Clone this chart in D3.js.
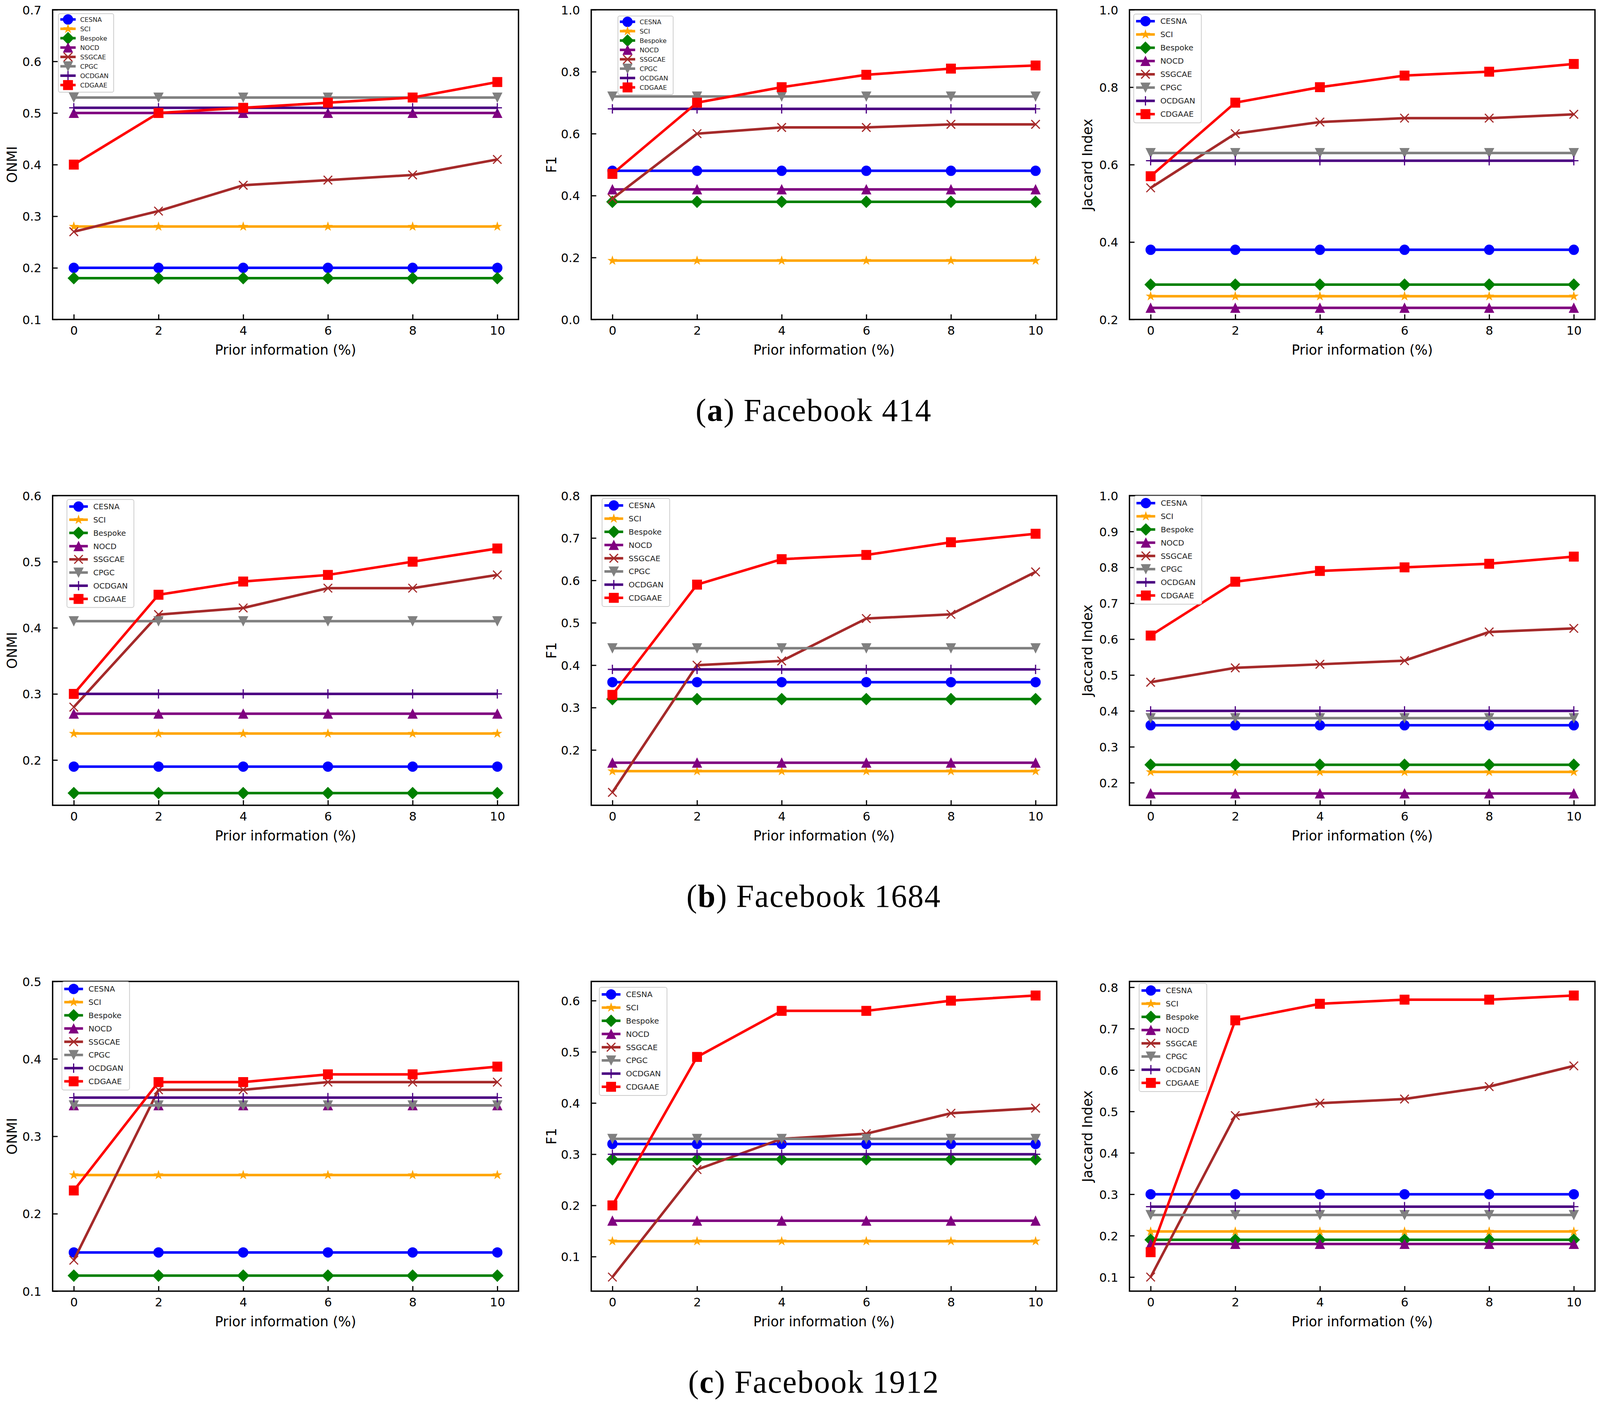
<!DOCTYPE html>
<html>
<head>
<meta charset="utf-8">
<script src="https://cdn.jsdelivr.net/npm/d3@7"></script>
<style>
  html, body { margin: 0; padding: 0; background: #ffffff; overflow: hidden; width: 100%; height: 100%; }
  #chart { width: 100vw; height: 100vh; }
  svg { display: block; width: 100vw; height: 100vh; }
</style>
</head>
<body>
<div id="chart"></div>
<script>
// ---------------- DATA ----------------
const xValues = [0, 2, 4, 6, 8, 10];
const xTickLabels = [0, 2, 4, 6, 8, 10];
const methods = ["CESNA", "SCI", "Bespoke", "NOCD", "SSGCAE", "CPGC", "OCDGAN", "CDGAAE"];
const methodColors = ["#0000ff", "#ffa500", "#008000", "#800080", "#a52a2a", "#808080", "#4b0082", "#ff0000"];
const methodMarkers = ["o", "*", "D", "^", "x", "v", "+", "s"];

// (a) Facebook 414
const fb414_onmi = [
  [0.20, 0.20, 0.20, 0.20, 0.20, 0.20],
  [0.28, 0.28, 0.28, 0.28, 0.28, 0.28],
  [0.18, 0.18, 0.18, 0.18, 0.18, 0.18],
  [0.50, 0.50, 0.50, 0.50, 0.50, 0.50],
  [0.27, 0.31, 0.36, 0.37, 0.38, 0.41],
  [0.53, 0.53, 0.53, 0.53, 0.53, 0.53],
  [0.51, 0.51, 0.51, 0.51, 0.51, 0.51],
  [0.40, 0.50, 0.51, 0.52, 0.53, 0.56]
];
const fb414_f1 = [
  [0.48, 0.48, 0.48, 0.48, 0.48, 0.48],
  [0.19, 0.19, 0.19, 0.19, 0.19, 0.19],
  [0.38, 0.38, 0.38, 0.38, 0.38, 0.38],
  [0.42, 0.42, 0.42, 0.42, 0.42, 0.42],
  [0.39, 0.60, 0.62, 0.62, 0.63, 0.63],
  [0.72, 0.72, 0.72, 0.72, 0.72, 0.72],
  [0.68, 0.68, 0.68, 0.68, 0.68, 0.68],
  [0.47, 0.70, 0.75, 0.79, 0.81, 0.82]
];
const fb414_jaccard = [
  [0.38, 0.38, 0.38, 0.38, 0.38, 0.38],
  [0.26, 0.26, 0.26, 0.26, 0.26, 0.26],
  [0.29, 0.29, 0.29, 0.29, 0.29, 0.29],
  [0.23, 0.23, 0.23, 0.23, 0.23, 0.23],
  [0.54, 0.68, 0.71, 0.72, 0.72, 0.73],
  [0.63, 0.63, 0.63, 0.63, 0.63, 0.63],
  [0.61, 0.61, 0.61, 0.61, 0.61, 0.61],
  [0.57, 0.76, 0.80, 0.83, 0.84, 0.86]
];
// (b) Facebook 1684
const fb1684_onmi = [
  [0.19, 0.19, 0.19, 0.19, 0.19, 0.19],
  [0.24, 0.24, 0.24, 0.24, 0.24, 0.24],
  [0.15, 0.15, 0.15, 0.15, 0.15, 0.15],
  [0.27, 0.27, 0.27, 0.27, 0.27, 0.27],
  [0.28, 0.42, 0.43, 0.46, 0.46, 0.48],
  [0.41, 0.41, 0.41, 0.41, 0.41, 0.41],
  [0.30, 0.30, 0.30, 0.30, 0.30, 0.30],
  [0.30, 0.45, 0.47, 0.48, 0.50, 0.52]
];
const fb1684_f1 = [
  [0.36, 0.36, 0.36, 0.36, 0.36, 0.36],
  [0.15, 0.15, 0.15, 0.15, 0.15, 0.15],
  [0.32, 0.32, 0.32, 0.32, 0.32, 0.32],
  [0.17, 0.17, 0.17, 0.17, 0.17, 0.17],
  [0.10, 0.40, 0.41, 0.51, 0.52, 0.62],
  [0.44, 0.44, 0.44, 0.44, 0.44, 0.44],
  [0.39, 0.39, 0.39, 0.39, 0.39, 0.39],
  [0.33, 0.59, 0.65, 0.66, 0.69, 0.71]
];
const fb1684_jaccard = [
  [0.36, 0.36, 0.36, 0.36, 0.36, 0.36],
  [0.23, 0.23, 0.23, 0.23, 0.23, 0.23],
  [0.25, 0.25, 0.25, 0.25, 0.25, 0.25],
  [0.17, 0.17, 0.17, 0.17, 0.17, 0.17],
  [0.48, 0.52, 0.53, 0.54, 0.62, 0.63],
  [0.38, 0.38, 0.38, 0.38, 0.38, 0.38],
  [0.40, 0.40, 0.40, 0.40, 0.40, 0.40],
  [0.61, 0.76, 0.79, 0.80, 0.81, 0.83]
];
// (c) Facebook 1912
const fb1912_onmi = [
  [0.15, 0.15, 0.15, 0.15, 0.15, 0.15],
  [0.25, 0.25, 0.25, 0.25, 0.25, 0.25],
  [0.12, 0.12, 0.12, 0.12, 0.12, 0.12],
  [0.34, 0.34, 0.34, 0.34, 0.34, 0.34],
  [0.14, 0.36, 0.36, 0.37, 0.37, 0.37],
  [0.34, 0.34, 0.34, 0.34, 0.34, 0.34],
  [0.35, 0.35, 0.35, 0.35, 0.35, 0.35],
  [0.23, 0.37, 0.37, 0.38, 0.38, 0.39]
];
const fb1912_f1 = [
  [0.32, 0.32, 0.32, 0.32, 0.32, 0.32],
  [0.13, 0.13, 0.13, 0.13, 0.13, 0.13],
  [0.29, 0.29, 0.29, 0.29, 0.29, 0.29],
  [0.17, 0.17, 0.17, 0.17, 0.17, 0.17],
  [0.06, 0.27, 0.33, 0.34, 0.38, 0.39],
  [0.33, 0.33, 0.33, 0.33, 0.33, 0.33],
  [0.30, 0.30, 0.30, 0.30, 0.30, 0.30],
  [0.20, 0.49, 0.58, 0.58, 0.60, 0.61]
];
const fb1912_jaccard = [
  [0.30, 0.30, 0.30, 0.30, 0.30, 0.30],
  [0.21, 0.21, 0.21, 0.21, 0.21, 0.21],
  [0.19, 0.19, 0.19, 0.19, 0.19, 0.19],
  [0.18, 0.18, 0.18, 0.18, 0.18, 0.18],
  [0.10, 0.49, 0.52, 0.53, 0.56, 0.61],
  [0.25, 0.25, 0.25, 0.25, 0.25, 0.25],
  [0.27, 0.27, 0.27, 0.27, 0.27, 0.27],
  [0.16, 0.72, 0.76, 0.77, 0.77, 0.78]
];

// y-axis limits and tick labels per panel
const yLimits = [
  [0.1, 0.7], [0.0, 1.0], [0.2, 1.0],
  [0.1315, 0.6], [0.0695, 0.8], [0.137, 1.0],
  [0.1, 0.5], [0.0325, 0.6375], [0.066, 0.814]
];
const yTickLabels = [
  [0.1, 0.2, 0.3, 0.4, 0.5, 0.6, 0.7],
  [0.0, 0.2, 0.4, 0.6, 0.8, 1.0],
  [0.2, 0.4, 0.6, 0.8, 1.0],
  [0.2, 0.3, 0.4, 0.5, 0.6],
  [0.2, 0.3, 0.4, 0.5, 0.6, 0.7, 0.8],
  [0.2, 0.3, 0.4, 0.5, 0.6, 0.7, 0.8, 0.9, 1.0],
  [0.1, 0.2, 0.3, 0.4, 0.5],
  [0.1, 0.2, 0.3, 0.4, 0.5, 0.6],
  [0.1, 0.2, 0.3, 0.4, 0.5, 0.6, 0.7, 0.8]
];
const metricLabels = ["ONMI", "F1", "Jaccard Index"];
const xAxisLabel = "Prior information (%)";
const captionLetters = ["a", "b", "c"];
const captionTexts = ["Facebook 414", "Facebook 1684", "Facebook 1912"];
const panelData = [fb414_onmi, fb414_f1, fb414_jaccard, fb1684_onmi, fb1684_f1, fb1684_jaccard, fb1912_onmi, fb1912_f1, fb1912_jaccard];

// ---------------- LAYOUT ----------------
const W = 4135, H = 3595;
const colX = [[136, 1340], [1528, 2731], [2919, 4122]];
const rowY = [[25, 818], [1269, 2062], [2513, 3306]];
const yLabelX = [31, 1425, 2810];
// legend: absolute x, y (top-left), font size, row height
const legendLayout = [
  {x: 151, y: 35, f: 16.5, row: 24},
  {x: 1597, y: 41, f: 16.5, row: 24},
  {x: 2930, y: 36, f: 20.2, row: 34},
  {x: 173, y: 1279, f: 20, row: 33.8},
  {x: 1556, y: 1276, f: 20.2, row: 33.8},
  {x: 2931, y: 1270, f: 20.2, row: 33.8},
  {x: 160, y: 2514, f: 20.2, row: 33.8},
  {x: 1549, y: 2528, f: 20.2, row: 33.8},
  {x: 2944, y: 2518, f: 20.2, row: 33.8}
];
const captionCenterX = 2103;
const captionOffset = 260;

const FONT = "'DejaVu Sans', sans-serif";
const LINE_W = 6.5;

const svg = d3.select("#chart").append("svg")
  .attr("viewBox", `0 0 ${W} ${H}`)
  .attr("preserveAspectRatio", "none");
svg.append("rect").attr("width", W).attr("height", H).attr("fill", "#ffffff");

// marker drawing
function drawMarker(g, type, color, cx, cy) {
  const s = g.append("g").attr("transform", `translate(${cx},${cy})`);
  if (type === "o") {
    s.append("circle").attr("r", 12.5).attr("fill", color).attr("stroke", color).attr("stroke-width", 1.5);
  } else if (type === "s") {
    s.append("rect").attr("x", -12).attr("y", -12).attr("width", 24).attr("height", 24)
      .attr("fill", color).attr("stroke", color).attr("stroke-width", 1.5);
  } else if (type === "D") {
    const r = 15;
    s.append("path").attr("d", `M0,${-r}L${r},0L0,${r}L${-r},0Z`).attr("fill", color).attr("stroke", color).attr("stroke-width", 1.5);
  } else if (type === "^" || type === "v") {
    const r = 12;
    const d = type === "^" ? `M0,${-r}L${r},${r}L${-r},${r}Z` : `M0,${r}L${r},${-r}L${-r},${-r}Z`;
    s.append("path").attr("d", d).attr("fill", color).attr("stroke", color).attr("stroke-width", 1.5);
  } else if (type === "*") {
    const R = 11, r = R * 0.381966;
    let d = "";
    for (let i = 0; i < 10; i++) {
      const rad = i % 2 === 0 ? R : r;
      const a = -Math.PI / 2 + i * Math.PI / 5;
      d += (i === 0 ? "M" : "L") + (rad * Math.cos(a)).toFixed(2) + "," + (rad * Math.sin(a)).toFixed(2);
    }
    s.append("path").attr("d", d + "Z").attr("fill", color).attr("stroke", color).attr("stroke-width", 1.5);
  } else if (type === "x") {
    const r = 11;
    s.append("path").attr("d", `M${-r},${-r}L${r},${r}M${-r},${r}L${r},${-r}`)
      .attr("stroke", color).attr("stroke-width", 3).attr("fill", "none");
  } else if (type === "+") {
    const r = 12;
    s.append("path").attr("d", `M${-r},0L${r},0M0,${-r}L0,${r}`)
      .attr("stroke", color).attr("stroke-width", 3).attr("fill", "none");
  }
}

const fmt = d3.format(".1f");

panelData.forEach((series, p) => {
  const row = Math.floor(p / 3), col = p % 3;
  const [x0, x1] = colX[col];
  const [y0, y1] = rowY[row];
  const x = d3.scaleLinear().domain([-0.5, 10.5]).range([x0, x1]);
  const y = d3.scaleLinear().domain(yLimits[p]).range([y1, y0]);
  const g = svg.append("g");

  // series
  const line = d3.line().x((d, i) => x(xValues[i])).y(d => y(d));
  series.forEach((vals, si) => {
    const sg = g.append("g");
    sg.append("path").datum(vals).attr("d", line)
      .attr("fill", "none").attr("stroke", methodColors[si])
      .attr("stroke-width", LINE_W).attr("stroke-linejoin", "round").attr("stroke-linecap", "butt");
    vals.forEach((v, i) => drawMarker(sg, methodMarkers[si], methodColors[si], x(xValues[i]), y(v)));
  });

  // axes (ticks pointing inward)
  const xAxis = d3.axisBottom(x).tickValues(xTickLabels).tickSizeInner(-13).tickSizeOuter(0).tickPadding(24);
  const xg = g.append("g").attr("transform", `translate(0,${y1})`).call(xAxis);
  const yAxis = d3.axisLeft(y).tickValues(yTickLabels[p]).tickFormat(fmt).tickSizeInner(-13).tickSizeOuter(0).tickPadding(29);
  const yg = g.append("g").attr("transform", `translate(${x0},0)`).call(yAxis);
  [xg, yg].forEach(a => {
    a.select(".domain").remove();
    a.selectAll(".tick line").attr("stroke", "#000").attr("stroke-width", 3);
    a.selectAll(".tick text").attr("font-family", FONT).attr("font-size", 31).attr("fill", "#000");
  });
  xg.selectAll(".tick text").attr("dy", null).attr("y", 39).attr("dominant-baseline", "auto");
  yg.selectAll(".tick text").attr("dy", "0.36em");

  // frame
  g.append("rect").attr("x", x0).attr("y", y0).attr("width", x1 - x0).attr("height", y1 - y0)
    .attr("fill", "none").attr("stroke", "#000").attr("stroke-width", 3.5);

  // axis labels
  g.append("text").attr("x", (x0 + x1) / 2).attr("y", y1 + 90)
    .attr("text-anchor", "middle").attr("font-family", FONT).attr("font-size", 35).attr("fill", "#000")
    .text(xAxisLabel);
  const ly = (y0 + y1) / 2;
  g.append("text").attr("transform", `translate(${yLabelX[col]},${ly}) rotate(-90)`)
    .attr("text-anchor", "middle").attr("dy", "0.36em").attr("font-family", FONT).attr("font-size", 35).attr("fill", "#000")
    .text(metricLabels[col]);

  // legend
  const L = legendLayout[p];
  const f = L.f;
  const lw = 8.65 * f;
  const lh = 0.9 * f + (methods.length - 1) * L.row + 1.1 * f;
  const lg = g.append("g");
  lg.append("rect").attr("x", L.x).attr("y", L.y).attr("width", lw).attr("height", lh)
    .attr("rx", 0.25 * f).attr("ry", 0.25 * f)
    .attr("fill", "#ffffff").attr("fill-opacity", 0.8).attr("stroke", "#cccccc").attr("stroke-width", 2);
  methods.forEach((m, si) => {
    const cy = L.y + 0.9 * f + si * L.row;
    const hx0 = L.x + 0.3 * f, hx1 = L.x + 2.7 * f;
    lg.append("line").attr("x1", hx0).attr("x2", hx1).attr("y1", cy).attr("y2", cy)
      .attr("stroke", methodColors[si]).attr("stroke-width", LINE_W);
    drawMarker(lg, methodMarkers[si], methodColors[si], (hx0 + hx1) / 2, cy);
    lg.append("text").attr("x", L.x + 3.4 * f).attr("y", cy).attr("dy", "0.36em")
      .attr("font-family", FONT).attr("font-size", f).attr("fill", "#222").text(m);
  });
});

// captions
captionLetters.forEach((c, r) => {
  const t = svg.append("text").attr("x", captionCenterX).attr("y", rowY[r][1] + captionOffset)
    .attr("text-anchor", "middle").attr("font-family", "'Liberation Serif', 'DejaVu Serif', serif")
    .attr("font-size", 82).attr("letter-spacing", 2).attr("fill", "#000");
  t.append("tspan").text("(");
  t.append("tspan").attr("font-weight", "bold").text(c);
  t.append("tspan").text(") " + captionTexts[r]);
});
</script>
</body>
</html>
